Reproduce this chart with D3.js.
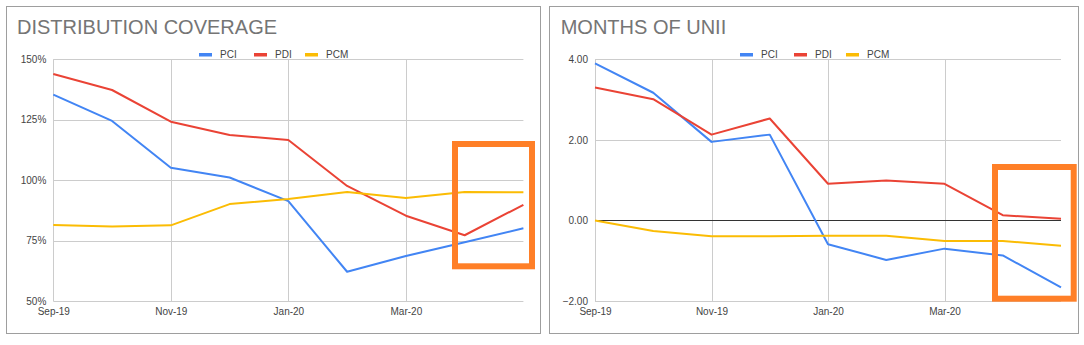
<!DOCTYPE html>
<html><head><meta charset="utf-8">
<script src="https://cdn.jsdelivr.net/npm/d3@7"></script>
<style>
body{margin:0;background:#fff;font-family:"Liberation Sans",Arial,sans-serif;}
svg text{font-family:"Liberation Sans",Arial,sans-serif;}
</style></head>
<body><svg id="c" width="1084" height="345"></svg>
<script>
const months = ["Sep-19","Oct-19","Nov-19","Dec-19","Jan-20","Feb-20","Mar-20","Apr-20","May-20"];
const xTickLabels = ["Sep-19","Nov-19","Jan-20","Mar-20"];
const seriesNames = ["PCI","PDI","PCM"];
const seriesColors = ["#4285f4","#ea4335","#fbbc04"];

const coveragePCI = [135.4,124.5,105.1,101.1,91.3,62.1,68.6,74.3,80.1];
const coveragePDI = [143.9,137.3,124.2,118.7,116.6,97.6,85.3,77.2,89.8];
const coveragePCM = [81.4,80.8,81.3,90.1,92.2,95.1,92.6,95.1,95.0];
const coverageTicks = [50,75,100,125,150];

const uniiPCI = [3.90,3.17,1.95,2.13,-0.59,-0.98,-0.70,-0.87,-1.66];
const uniiPDI = [3.30,3.01,2.13,2.53,0.91,0.99,0.91,0.13,0.04];
const uniiPCM = [0.00,-0.26,-0.39,-0.39,-0.38,-0.38,-0.51,-0.51,-0.63];
const uniiTicks = [-2,0,2,4];

const svg = d3.select("#c");

function panel(cfg){
  const g = svg.append("g");
  g.append("rect").attr("x",cfg.box[0]+0.5).attr("y",cfg.box[1]+0.5)
    .attr("width",cfg.box[2]).attr("height",cfg.box[3])
    .attr("fill","#fff").attr("stroke","#9e9e9e").attr("stroke-width",1);
  g.append("text").attr("x",cfg.titleX).attr("y",34.3).attr("font-size",20)
    .attr("fill","#757575").text(cfg.title);

  const x = d3.scalePoint().domain(months).range(cfg.xr);
  const y = d3.scaleLinear().domain(cfg.yd).range([301,59.3]);

  g.append("g").selectAll("line").data(cfg.ticks).join("line")
    .attr("x1",cfg.xr[0]).attr("x2",cfg.xr[1])
    .attr("y1",d=>Math.round(y(d))+0.5).attr("y2",d=>Math.round(y(d))+0.5)
    .attr("stroke","#cccccc").attr("stroke-width",1);
  g.append("g").selectAll("line").data(xTickLabels).join("line")
    .attr("x1",d=>Math.round(x(d))+0.5).attr("x2",d=>Math.round(x(d))+0.5)
    .attr("y1",59.3).attr("y2",301)
    .attr("stroke","#cccccc").attr("stroke-width",1);

  if(cfg.zero){
    g.append("line").attr("x1",cfg.xr[0]).attr("x2",cfg.xr[1])
      .attr("y1",Math.round(y(0))+0.5).attr("y2",Math.round(y(0))+0.5)
      .attr("stroke","#333").attr("stroke-width",1);
  }

  const ya = d3.axisLeft(y).tickValues(cfg.ticks).tickSize(0).tickPadding(7).tickFormat(cfg.fmt);
  const yg = g.append("g").attr("transform",`translate(${cfg.xr[0]},0)`).call(ya);
  yg.select(".domain").remove();
  yg.selectAll("text").attr("font-size",10).attr("fill","#444").attr("font-family","Liberation Sans, Arial, sans-serif");

  const xa = d3.axisBottom(x).tickValues(xTickLabels).tickSize(0).tickPadding(7);
  const xg = g.append("g").attr("transform",`translate(0,301)`).call(xa);
  xg.select(".domain").remove();
  xg.selectAll("text").attr("font-size",10).attr("fill","#444").attr("font-family","Liberation Sans, Arial, sans-serif");

  const line = d3.line().x((d,i)=>x(months[i])).y(d=>y(d));
  cfg.data.forEach((arr,k)=>{
    g.append("path").datum(arr).attr("d",line).attr("fill","none")
      .attr("stroke",seriesColors[k]).attr("stroke-width",2).attr("stroke-linejoin","round");
  });

  cfg.legend.forEach((lx,k)=>{
    g.append("rect").attr("x",lx).attr("y",53).attr("width",13).attr("height",3.5)
      .attr("fill",seriesColors[k]);
    g.append("text").attr("x",lx+21).attr("y",57.5).attr("font-size",10)
      .attr("fill","#444").text(seriesNames[k]);
  });

  g.append("rect").attr("x",cfg.hl[0]).attr("y",cfg.hl[1]).attr("width",cfg.hl[2]).attr("height",cfg.hl[3])
    .attr("fill","none").attr("stroke","#ff7f27").attr("stroke-width",6);
}

panel({box:[6,6,534,327],title:"DISTRIBUTION COVERAGE",titleX:17,
  xr:[53.3,523.4],yd:[50,150],ticks:coverageTicks,fmt:d=>d+"%",
  data:[coveragePCI,coveragePDI,coveragePCM],legend:[199,254,305],
  hl:[455,144,77,122.3]});

panel({box:[549,6,529,327],title:"MONTHS OF UNII",titleX:560.7,
  xr:[595,1061],yd:[-2,4],ticks:uniiTicks,fmt:d3.format(".2f"),zero:true,
  data:[uniiPCI,uniiPDI,uniiPCM],legend:[740,794,846],
  hl:[995,167,78.7,131.7]});
</script></body></html>
